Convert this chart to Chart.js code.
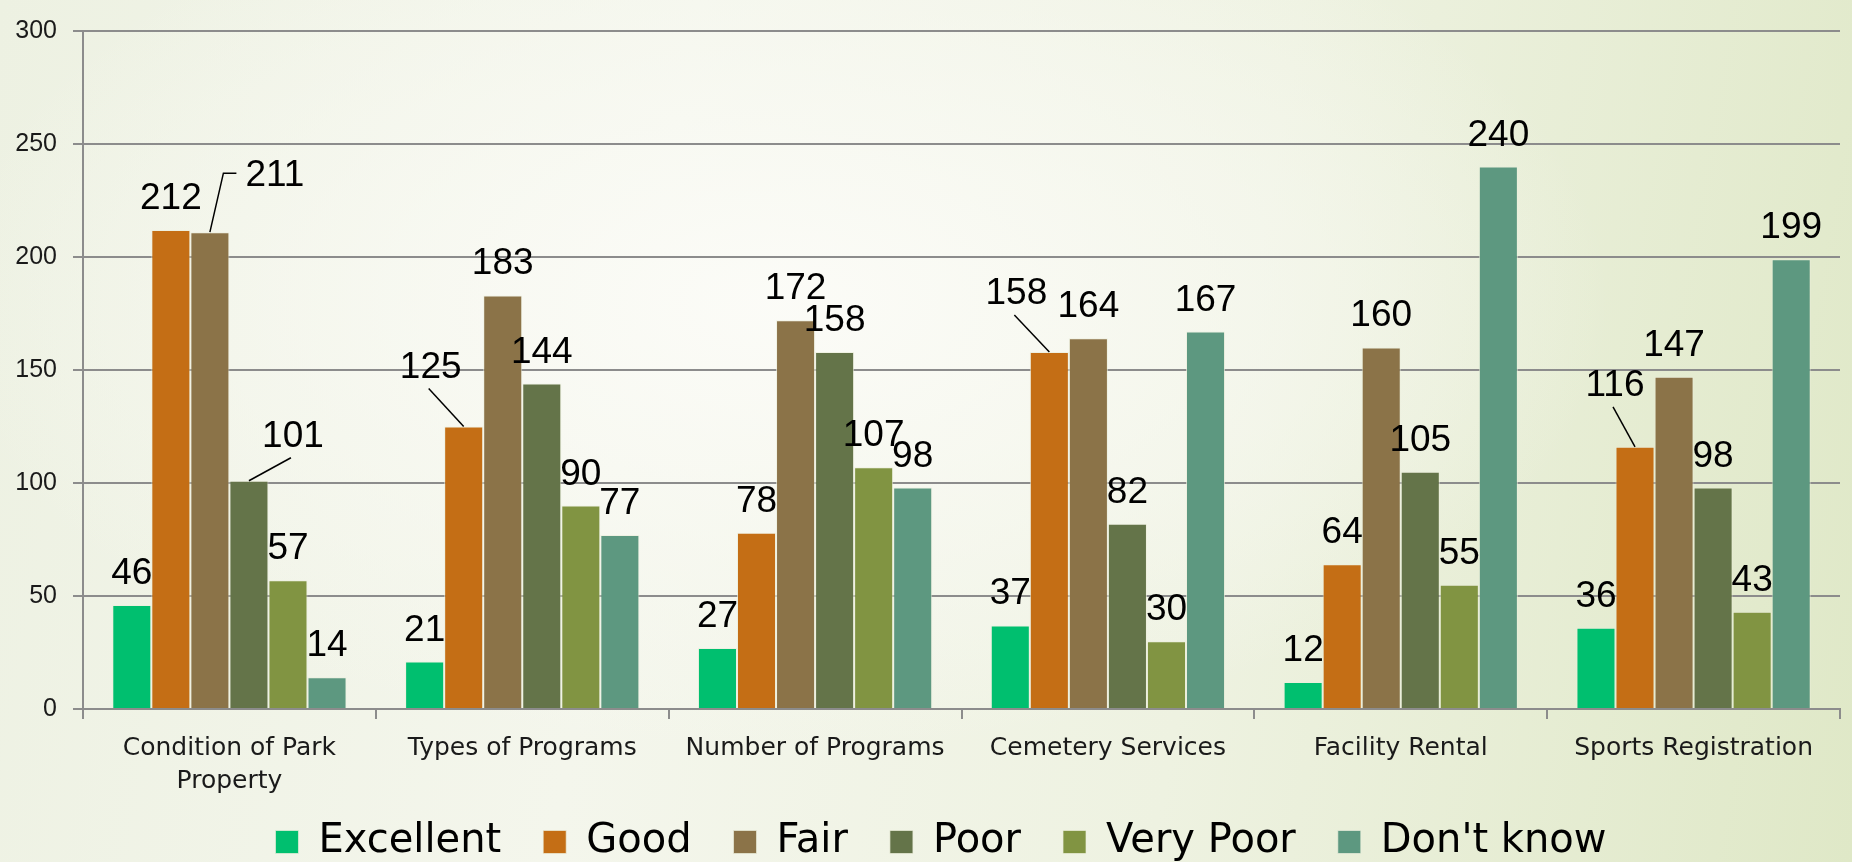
<!DOCTYPE html>
<html>
<head>
<meta charset="utf-8">
<title>Service ratings</title>
<script src="https://cdn.jsdelivr.net/npm/chart.js@4.4.0/dist/chart.umd.min.js"></script>
<style>
    html, body {
        margin: 0;
        padding: 0;
        width: 1852px;
        height: 862px;
        overflow: hidden;
    }
    body {
        background:
            radial-gradient(ellipse 60% 70% at 42% 35%, rgba(252,252,248,0.95) 0%, rgba(248,249,242,0.6) 45%, rgba(248,249,242,0) 75%),
            linear-gradient(100deg, #edf1e2 0%, #f4f6ec 35%, #eef2e1 65%, #dfe8c7 100%);
    }
    #chart { display: block; }
</style>
</head>
<body>
<canvas id="chart" width="1852" height="862"></canvas>
<script>
// Categories and series
const categories = [['Condition of Park', 'Property'], 'Types of Programs', 'Number of Programs', 'Cemetery Services', 'Facility Rental', 'Sports Registration'];
const ratingNames = ['Excellent', 'Good', 'Fair', 'Poor', 'Very Poor', "Don't know"];
const excellent = [46, 21, 27, 37, 12, 36];
const good = [212, 125, 78, 158, 64, 116];
const fair = [211, 183, 172, 164, 160, 147];
const poor = [101, 144, 158, 82, 105, 98];
const veryPoor = [57, 90, 107, 30, 55, 43];
const dontKnow = [14, 77, 98, 167, 240, 199];
const yMin = 0, yMax = 300, yStep = 50;

const seriesValues = [excellent, good, fair, poor, veryPoor, dontKnow];
const seriesColors = ['#00bf6f', '#c46e15', '#8b7348', '#647449', '#819442', '#5d9880'];

const NUM_FONT = "'Liberation Sans', Arial, sans-serif";
const TEXT_FONT = "'DejaVu Sans', sans-serif";
const GRID = '#8c8c8c';

// labels moved off their bar, with a leader line (dataset-index)
const labelNudges = {
    '2-0': { dx: 65, dy: -25, elbow: true },
    '3-0': { dx: 44, dy: -13 },
    '1-1': { dx: -33, dy: -28 },
    '1-3': { dx: -33, dy: -27 },
    '1-5': { dx: -20, dy: -30 }
};

const valueLabels = {
    id: 'valueLabels',
    afterLayout(chart) {
        // pull the legend up under the two-line axis label
        if (chart.legend) {
            chart.legend.top -= 29;
            chart.legend.bottom -= 29;
            chart.legend.left += 21;
            chart.legend.right += 21;
        }
    },
    afterDatasetsDraw(chart) {
        const ctx = chart.ctx;
        ctx.save();
        ctx.font = '37px ' + NUM_FONT;
        ctx.fillStyle = '#000';
        ctx.textAlign = 'center';
        ctx.textBaseline = 'alphabetic';
        ctx.strokeStyle = '#000';
        ctx.lineWidth = 1.5;
        chart.data.datasets.forEach((ds, di) => {
            const meta = chart.getDatasetMeta(di);
            meta.data.forEach((bar, i) => {
                const nudge = labelNudges[di + '-' + i];
                const cx = bar.x + (nudge ? nudge.dx : 0);
                const base = bar.y - 21 + (nudge ? nudge.dy : 0);
                const text = String(ds.data[i]);
                ctx.fillText(text, cx, base);
                if (nudge) {
                    ctx.beginPath();
                    if (nudge.elbow) {
                        const w = ctx.measureText(text).width;
                        const left = cx - w / 2;
                        const my = base - 13;
                        ctx.moveTo(bar.x, bar.y);
                        ctx.lineTo(left - 22, my);
                        ctx.lineTo(left - 9, my);
                    } else {
                        ctx.moveTo(bar.x, bar.y);
                        ctx.lineTo(cx - 2, base + 11);
                    }
                    ctx.stroke();
                }
            });
        });
        ctx.restore();
    }
};

new Chart(document.getElementById('chart'), {
    type: 'bar',
    data: {
        labels: categories,
        datasets: ratingNames.map((name, k) => ({
            label: name,
            data: seriesValues[k],
            backgroundColor: seriesColors[k],
            borderColor: 'rgba(235,238,220,0.7)',
            borderWidth: 1,
            barPercentage: 1,
            categoryPercentage: 0.8
        }))
    },
    options: {
        responsive: false,
        animation: false,
        layout: { padding: { top: 22, left: 0, right: 12, bottom: -39 } },
        plugins: {
            tooltip: { enabled: false },
            legend: {
                position: 'bottom',
                labels: {
                    boxWidth: 23,
                    boxHeight: 23,
                    padding: 42,
                    color: '#000',
                    font: { family: TEXT_FONT, size: 40 }
                }
            }
        },
        scales: {
            x: {
                afterFit(scale) { scale.height = 100; },
                grid: {
                    drawOnChartArea: false,
                    drawTicks: true,
                    tickLength: 10,
                    color: GRID,
                    lineWidth: 2
                },
                border: { color: GRID, width: 2 },
                ticks: {
                    color: '#1a1a1a',
                    padding: 13,
                    maxRotation: 0,
                    autoSkip: false,
                    font: { family: TEXT_FONT, size: 25, lineHeight: 1.32 }
                }
            },
            y: {
                min: yMin,
                max: yMax,
                afterFit(scale) { scale.width = 83; },
                grid: {
                    color: GRID,
                    lineWidth: 2,
                    drawTicks: true,
                    tickLength: 10
                },
                border: { color: GRID, width: 2 },
                ticks: {
                    stepSize: yStep,
                    color: '#1a1a1a',
                    padding: 16,
                    font: { family: NUM_FONT, size: 25 }
                }
            }
        }
    },
    plugins: [valueLabels]
});
</script>
</body>
</html>
